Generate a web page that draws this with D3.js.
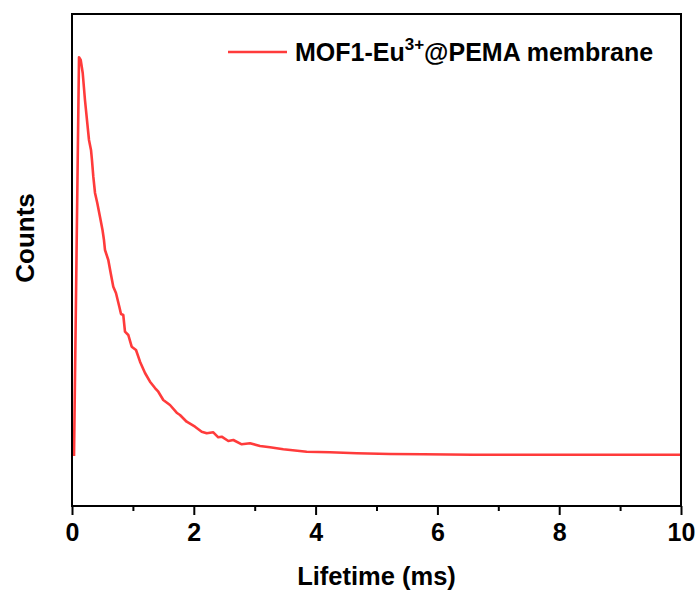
<!DOCTYPE html>
<html>
<head>
<meta charset="utf-8">
<script src="https://cdn.jsdelivr.net/npm/d3@7"></script>
<style>
html,body{margin:0;padding:0;background:#fff;}
svg{display:block;}
text{font-family:"Liberation Sans",Arial,sans-serif;font-weight:bold;fill:#000;}
</style>
</head>
<body>
<svg id="chart" width="699" height="594"></svg>
<script>
// Data (time in ms, counts in arbitrary units)
const lifetime = [0.033,0.115,0.143,0.176,0.213,0.251,0.279,0.312,0.328,0.350,0.378,0.415,0.460,0.501,0.525,0.542,0.596,0.635,0.678,0.722,0.777,0.805,0.842,0.870,0.924,0.980,1.051,1.117,1.199,1.281,1.363,1.417,1.499,1.609,1.719,1.773,1.883,2.020,2.130,2.212,2.320,2.402,2.458,2.567,2.649,2.787,2.923,3.087,3.251,3.470,3.854,4.236,4.675,5.222,5.764,6.585,7.685,8.780,9.984];
const counts = [1016,9120,9065,8801,8252,7784,7439,7236,7032,6693,6362,6158,5874,5610,5406,5203,5000,4736,4457,4329,4051,3902,3882,3543,3476,3238,3171,2933,2703,2526,2398,2323,2154,2053,1896,1850,1713,1612,1510,1478,1498,1396,1409,1321,1341,1254,1274,1220,1193,1152,1104,1091,1071,1057,1051,1043,1043,1043,1043];
const xMajorTicks = [0,2,4,6,8,10];
const xMinorTicks = [1,3,5,7,9];
const seriesName = "MOF1-Eu";
const seriesSup = "3+";
const seriesTail = "@PEMA membrane";
const xTitle = "Lifetime (ms)";
const yTitle = "Counts";

const svg = d3.select("#chart");
const m = {left:72, right:681, top:14, bottom:506};
const x = d3.scaleLinear().domain([0,10]).range([m.left, m.right]);
const y = d3.scaleLinear().domain([0,10000]).range([m.bottom, m.top]);
const red = "#ff3b3b";

// curve
const data = lifetime.map((t,i)=>({t, c:counts[i]}));
svg.append("path").datum(data)
  .attr("fill","none").attr("stroke",red).attr("stroke-width",2.6)
  .attr("stroke-linejoin","round")
  .attr("d", d3.line().x(d=>x(d.t)).y(d=>y(d.c)));

// minor ticks
const minorAxis = svg.append("g").attr("transform",`translate(0,${m.bottom})`)
  .call(d3.axisBottom(x).tickValues(xMinorTicks).tickSize(5).tickFormat(""));
minorAxis.select(".domain").remove();
minorAxis.selectAll("line").attr("stroke","#000").attr("stroke-width",2);

// major axis
const xAxis = svg.append("g").attr("transform",`translate(0,${m.bottom})`)
  .call(d3.axisBottom(x).tickValues(xMajorTicks).tickSize(9).tickPadding(8).tickFormat(d3.format("d")));
xAxis.select(".domain").remove();
xAxis.selectAll("line").attr("stroke","#000").attr("stroke-width",2);
xAxis.selectAll("text").attr("font-size",25).attr("font-family","Liberation Sans, Arial, sans-serif").attr("font-weight","bold").attr("fill","#000");

// frame
svg.append("rect").attr("x",m.left).attr("y",m.top)
  .attr("width",m.right-m.left).attr("height",m.bottom-m.top)
  .attr("fill","none").attr("stroke","#000").attr("stroke-width",2);

// axis titles
svg.append("text").attr("x",(m.left+m.right)/2).attr("y",585)
  .attr("text-anchor","middle").attr("font-size",25.5).text(xTitle);
svg.append("text").attr("transform","translate(34,238) rotate(-90)")
  .attr("text-anchor","middle").attr("font-size",26).text(yTitle);

// legend
svg.append("line").attr("x1",228).attr("x2",287).attr("y1",52).attr("y2",52)
  .attr("stroke",red).attr("stroke-width",2.6);
const lt = svg.append("text").attr("x",295).attr("y",61).attr("font-size",25);
lt.append("tspan").text(seriesName);
lt.append("tspan").attr("font-size",17).attr("dy",-11).text(seriesSup);
lt.append("tspan").attr("dy",11).text(seriesTail);
</script>
</body>
</html>
